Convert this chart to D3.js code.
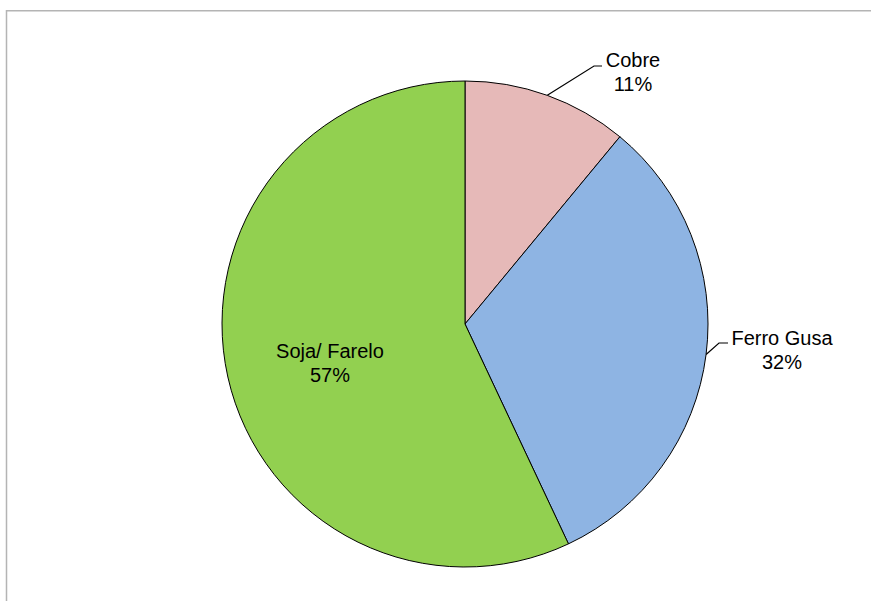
<!DOCTYPE html>
<html>
<head>
<meta charset="utf-8">
<script src="https://cdn.jsdelivr.net/npm/d3@7"></script>
<style>
  html, body { margin: 0; padding: 0; background: #fff; }
  svg { display: block; }
  text { font-family: "Liberation Sans", Arial, sans-serif; fill: #000; }
</style>
</head>
<body>
<svg id="chart" width="871" height="601"></svg>
<script>
// Export share by product
const categories = ["Cobre", "Ferro Gusa", "Soja/ Farelo"];
const shares = [11, 32, 57];
const sliceColors = ["#E6B9B8", "#8EB4E3", "#92D050"];

const W = 871, H = 601;
const cx = 465, cy = 324, radius = 243;

const svg = d3.select("#chart");

// chart area frame
svg.append("rect")
  .attr("x", 6.5).attr("y", 10.75)
  .attr("width", 870).attr("height", 600)
  .attr("fill", "#fff")
  .attr("stroke", "#b4b4b4")
  .attr("stroke-width", 1.5);

const data = categories.map((c, i) => ({ name: c, value: shares[i], color: sliceColors[i] }));

const pie = d3.pie().sort(null).value(d => d.value);
const arcs = pie(data);
const arc = d3.arc().innerRadius(0).outerRadius(radius);

const g = svg.append("g").attr("transform", `translate(${cx},${cy})`);

g.selectAll("path.slice")
  .data(arcs)
  .join("path")
  .attr("class", "slice")
  .attr("d", arc)
  .attr("fill", d => d.data.color)
  .attr("stroke", "#000")
  .attr("stroke-width", 1)
  .attr("stroke-linejoin", "round");

// label placement: outside labels with leader lines, or inside
const labelLayout = {
  "Cobre":        { outside: true,  elbow: [129, -258], end: [137, -258], text: [168, -257] },
  "Ferro Gusa":   { outside: true,  elbow: [254, 19],   end: [263, 19],   text: [317, 21] },
  "Soja/ Farelo": { outside: false, text: [-135, 34] }
};

const fs = 20, lineH = 24;

arcs.forEach(a => {
  const L = labelLayout[a.data.name];
  if (L.outside) {
    const mid = (a.startAngle + a.endAngle) / 2;
    const p0 = [radius * Math.sin(mid), -radius * Math.cos(mid)];
    g.append("path")
      .attr("d", d3.line()([p0, L.elbow, L.end]))
      .attr("fill", "none")
      .attr("stroke", "#000")
      .attr("stroke-width", 1.2);
  }
  const t = g.append("text")
    .attr("text-anchor", "middle")
    .attr("font-size", fs);
  t.append("tspan").attr("x", L.text[0]).attr("y", L.text[1]).text(a.data.name);
  t.append("tspan").attr("x", L.text[0]).attr("y", L.text[1] + lineH).text(a.data.value + "%");
});
</script>
</body>
</html>
